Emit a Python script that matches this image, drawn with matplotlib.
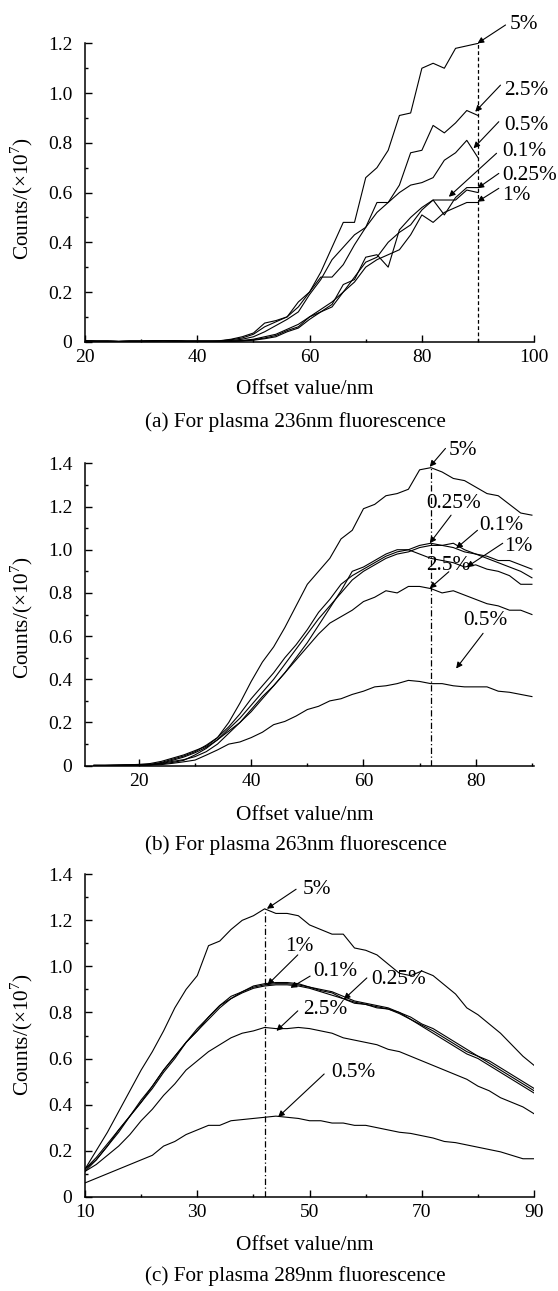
import matplotlib
matplotlib.use('Agg')
import matplotlib.pyplot as plt
from matplotlib.ticker import MultipleLocator, FuncFormatter

plt.rcParams['font.family'] = ['Liberation Serif', 'DejaVu Serif']
plt.rcParams['mathtext.fontset'] = 'custom'
plt.rcParams['mathtext.rm'] = 'Liberation Serif'
FS = 15.3      # labels, captions, annotations
FS_TICK = 14

# ---- panel (a): 236nm ----
x_a = [20, 22, 24, 26, 28, 30, 32, 34, 36, 38, 40, 42, 44, 46, 48, 50, 52, 54,
       56, 58, 60, 62, 64, 66, 68, 70, 72, 74, 76, 78, 80, 82, 84, 86, 88, 90]
zeros_a = [0.003, 0.002, 0.002, 0.001, 0.002, 0.002, 0.003, 0.004, 0.003, 0.002, 0.002, 0.002]
a_5 = zeros_a + [0.004, 0.01, 0.02, 0.035, 0.075, 0.085, 0.1, 0.16, 0.2, 0.28, 0.38, 0.48,
                 0.48, 0.66, 0.7, 0.77, 0.91, 0.92, 1.1, 1.12, 1.1, 1.18, 1.19, 1.2]
a_25 = zeros_a + [0.003, 0.008, 0.015, 0.03, 0.06, 0.08, 0.1, 0.14, 0.2, 0.26, 0.26, 0.31,
                  0.39, 0.46, 0.56, 0.56, 0.63, 0.76, 0.77, 0.87, 0.84, 0.88, 0.93, 0.91]
a_05 = zeros_a + [0.002, 0.005, 0.01, 0.02, 0.04, 0.065, 0.09, 0.12, 0.19, 0.25, 0.33, 0.38,
                  0.43, 0.46, 0.52, 0.56, 0.6, 0.63, 0.64, 0.66, 0.73, 0.76, 0.81, 0.74]
a_01 = zeros_a + [0.001, 0.002, 0.005, 0.01, 0.02, 0.03, 0.05, 0.07, 0.1, 0.13, 0.16, 0.2,
                  0.26, 0.32, 0.34, 0.4, 0.44, 0.47, 0.53, 0.57, 0.57, 0.57, 0.61, 0.6]
a_025 = zeros_a + [0.001, 0.002, 0.004, 0.008, 0.015, 0.025, 0.045, 0.06, 0.1, 0.12, 0.15, 0.23,
                   0.25, 0.34, 0.35, 0.3, 0.45, 0.5, 0.54, 0.57, 0.51, 0.58, 0.62, 0.62]
a_1 = zeros_a + [0.001, 0.002, 0.003, 0.006, 0.012, 0.02, 0.04, 0.055, 0.09, 0.12, 0.14, 0.2,
                 0.24, 0.3, 0.33, 0.35, 0.37, 0.43, 0.51, 0.48, 0.52, 0.54, 0.56, 0.56]

# ---- panel (b): 263nm ----
x_b = [12, 14, 16, 18, 20, 22, 24, 26, 28, 30, 32, 34, 36, 38, 40, 42, 44, 46, 48, 50,
       52, 54, 56, 58, 60, 62, 64, 66, 68, 70, 72, 74, 76, 78, 80, 82, 84, 86, 88, 90]
b_5 = [0.002, 0.002, 0.003, 0.004, 0.006, 0.01, 0.02, 0.035, 0.05, 0.07,
       0.09, 0.13, 0.2, 0.29, 0.39, 0.48, 0.55, 0.64, 0.74, 0.84,
       0.9, 0.96, 1.05, 1.09, 1.19, 1.21, 1.25, 1.26, 1.28, 1.37,
       1.38, 1.36, 1.33, 1.32, 1.29, 1.26, 1.25, 1.21, 1.17, 1.16]
b_025 = [0.001, 0.001, 0.002, 0.003, 0.004, 0.006, 0.015, 0.03, 0.045, 0.065,
         0.095, 0.13, 0.18, 0.24, 0.31, 0.37, 0.43, 0.5, 0.56, 0.63,
         0.71, 0.77, 0.84, 0.88, 0.91, 0.94, 0.97, 0.99, 1.0, 1.02,
         1.03, 1.02, 1.01, 0.99, 0.98, 0.97, 0.95, 0.95, 0.93, 0.91]
b_01 = [0.001, 0.001, 0.002, 0.002, 0.003, 0.005, 0.012, 0.025, 0.04, 0.06,
        0.085, 0.12, 0.17, 0.22, 0.28, 0.34, 0.4, 0.47, 0.54, 0.61,
        0.68, 0.74, 0.8, 0.86, 0.9, 0.93, 0.96, 0.98, 0.99, 1.01,
        1.02, 1.02, 1.03, 1.0, 0.98, 0.96, 0.94, 0.92, 0.9, 0.87]
b_1 = [0.001, 0.001, 0.001, 0.002, 0.003, 0.004, 0.008, 0.015, 0.025, 0.05,
       0.08, 0.12, 0.16, 0.2, 0.25, 0.31, 0.37, 0.43, 0.5, 0.57,
       0.65, 0.73, 0.81, 0.9, 0.92, 0.95, 0.98, 1.0, 1.0, 0.98,
       0.96, 0.95, 0.94, 0.92, 0.93, 0.91, 0.9, 0.88, 0.84, 0.84]
b_25 = [0.001, 0.001, 0.001, 0.002, 0.002, 0.004, 0.01, 0.02, 0.028, 0.042,
        0.065, 0.1, 0.15, 0.2, 0.26, 0.32, 0.37, 0.43, 0.49, 0.55,
        0.61, 0.66, 0.69, 0.72, 0.76, 0.78, 0.81, 0.8, 0.83, 0.83,
        0.82, 0.8, 0.81, 0.79, 0.77, 0.75, 0.74, 0.72, 0.72, 0.7]
b_05 = [0.001, 0.001, 0.001, 0.002, 0.002, 0.003, 0.005, 0.011, 0.018, 0.026,
        0.049, 0.073, 0.1, 0.11, 0.13, 0.155, 0.19, 0.205, 0.23, 0.26,
        0.275, 0.3, 0.31, 0.33, 0.345, 0.365, 0.37, 0.38, 0.395, 0.39,
        0.38, 0.38, 0.37, 0.365, 0.365, 0.365, 0.345, 0.34, 0.33, 0.32]

# ---- panel (c): 289nm ----
x_c = [10, 12, 14, 16, 18, 20, 22, 24, 26, 28, 30, 32, 34, 36, 38, 40, 42, 44, 46, 48,
       50, 52, 54, 56, 58, 60, 62, 64, 66, 68, 70, 72, 74, 76, 78, 80, 82, 84, 86, 88, 90]
c_5 = [0.12, 0.2, 0.28, 0.37, 0.46, 0.55, 0.63, 0.72, 0.82, 0.9,
       0.96, 1.09, 1.11, 1.16, 1.2, 1.22, 1.25, 1.23, 1.23, 1.22,
       1.18, 1.16, 1.14, 1.14, 1.08, 1.07, 1.05, 1.01, 0.97, 0.96,
       0.98, 0.96, 0.92, 0.88, 0.82, 0.79, 0.75, 0.71, 0.66, 0.61, 0.57]
c_1 = [0.12, 0.17, 0.23, 0.29, 0.35, 0.41, 0.48, 0.55, 0.61, 0.67,
       0.73, 0.78, 0.83, 0.87, 0.89, 0.915, 0.925, 0.93, 0.93, 0.925,
       0.91, 0.9, 0.89, 0.87, 0.85, 0.84, 0.83, 0.82, 0.8, 0.77,
       0.745, 0.72, 0.69, 0.66, 0.63, 0.61, 0.58, 0.55, 0.52, 0.49, 0.46]
c_01 = [0.12, 0.16, 0.22, 0.28, 0.35, 0.41, 0.47, 0.54, 0.6, 0.67,
        0.72, 0.78, 0.83, 0.86, 0.89, 0.91, 0.92, 0.925, 0.925, 0.92,
        0.91, 0.895, 0.885, 0.86, 0.84, 0.835, 0.82, 0.815, 0.795, 0.77,
        0.74, 0.71, 0.68, 0.65, 0.62, 0.6, 0.57, 0.54, 0.51, 0.48, 0.45]
c_025 = [0.11, 0.16, 0.22, 0.29, 0.35, 0.42, 0.48, 0.55, 0.61, 0.67,
         0.72, 0.77, 0.82, 0.86, 0.885, 0.905, 0.915, 0.92, 0.92, 0.915,
         0.905, 0.89, 0.875, 0.86, 0.845, 0.835, 0.825, 0.815, 0.8, 0.78,
         0.75, 0.73, 0.7, 0.67, 0.64, 0.61, 0.59, 0.56, 0.53, 0.5, 0.47]
c_25 = [0.11, 0.14, 0.18, 0.22, 0.27, 0.33, 0.38, 0.44, 0.49, 0.55,
        0.59, 0.63, 0.66, 0.69, 0.71, 0.72, 0.735, 0.73, 0.73, 0.735,
        0.73, 0.72, 0.71, 0.69, 0.68, 0.67, 0.66, 0.64, 0.63, 0.61,
        0.59, 0.57, 0.55, 0.53, 0.51, 0.48, 0.46, 0.43, 0.41, 0.39, 0.36]
c_05 = [0.06, 0.08, 0.1, 0.12, 0.14, 0.16, 0.18, 0.22, 0.24, 0.27,
        0.29, 0.31, 0.31, 0.33, 0.335, 0.34, 0.345, 0.35, 0.345, 0.34,
        0.33, 0.33, 0.32, 0.32, 0.31, 0.31, 0.3, 0.29, 0.28, 0.275,
        0.265, 0.255, 0.24, 0.235, 0.225, 0.215, 0.205, 0.195, 0.18, 0.165, 0.165]

# label, text position, arrow tail, arrow head
labels_a = [('5%', (95.7, 1.274), (94.9, 1.274), (89.9, 1.2)),
            ('2.5%', (94.6, 1.012), (94.0, 1.032), (89.5, 0.925)),
            ('0.5%', (94.6, 0.87), (93.7, 0.885), (89.2, 0.778)),
            ('0.1%', (94.3, 0.764), (93.3, 0.758), (84.8, 0.583)),
            ('0.25%', (94.3, 0.67), (93.7, 0.677), (89.9, 0.617)),
            ('1%', (94.3, 0.59), (93.7, 0.617), (89.9, 0.563))]
labels_b = [('5%', (75.2, 1.461), (74.6, 1.469), (71.8, 1.384)),
            ('0.25%', (71.1, 1.215), (75.6, 1.16), (71.8, 1.03)),
            ('0.1%', (80.6, 1.114), (80.3, 1.09), (76.5, 1.006)),
            ('1%', (85.1, 1.014), (84.8, 1.03), (78.4, 0.92)),
            ('2.5%', (71.1, 0.929), (75.2, 0.898), (71.8, 0.821)),
            ('0.5%', (77.8, 0.674), (81.3, 0.613), (76.5, 0.45))]
labels_c = [('5%', (48.8, 1.332), (47.6, 1.335), (42.4, 1.25)),
            ('1%', (45.7, 1.087), (47.9, 1.05), (42.5, 0.92)),
            ('0.1%', (50.7, 0.979), (50.1, 0.958), (46.6, 0.907)),
            ('0.25%', (60.9, 0.943), (60.2, 0.95), (56.1, 0.857)),
            ('2.5%', (48.8, 0.814), (47.9, 0.807), (44.1, 0.72)),
            ('0.5%', (53.9, 0.54), (52.6, 0.533), (44.4, 0.346))]

fig = plt.figure(figsize=(5.58, 12.91), dpi=100)


def style_axes(ax, xlim, xmaj, xmin, ymax):
    ax.set_xlim(*xlim)
    ax.set_ylim(0, ymax)
    ax.spines['top'].set_visible(False)
    ax.spines['right'].set_visible(False)
    ax.xaxis.set_major_locator(xmaj)
    ax.xaxis.set_minor_locator(xmin)
    ax.yaxis.set_major_locator(MultipleLocator(0.2))
    ax.yaxis.set_minor_locator(MultipleLocator(0.1))
    ax.yaxis.set_major_formatter(FuncFormatter(lambda v, p: '0' if abs(v) < 1e-9 else f'{v:.1f}'))
    ax.tick_params(which='both', direction='in', labelsize=FS_TICK, width=1.0)
    ax.tick_params(which='major', length=5)
    ax.tick_params(which='minor', length=2.5)
    ax.tick_params(axis='x', which='major', pad=5)
    ax.tick_params(axis='y', which='major', pad=9)
    for s in ax.spines.values():
        s.set_linewidth(1.1)


def draw_labels(ax, labels):
    for txt, tpos, tail, head in labels:
        ax.text(tpos[0], tpos[1], txt, fontsize=FS, ha='left', va='center', clip_on=False)
        ax.annotate('', xy=head, xytext=tail, annotation_clip=False,
                    arrowprops=dict(arrowstyle='-|>', lw=0.8, color='k',
                                    mutation_scale=9, shrinkA=0, shrinkB=0))


L, W = 0.1523, 0.805

# (a)
ax1 = fig.add_axes([L, 0.7353, W, 0.2311])
for ys in [a_5, a_25, a_05, a_01, a_025, a_1]:
    ax1.plot(x_a, ys, color='k', lw=0.8)
ax1.vlines(x_a[a_5.index(max(a_5))], 0, max(a_5), colors='k', linestyles=(0, (3, 2)), lw=0.9)
style_axes(ax1, (20, 100), MultipleLocator(20), MultipleLocator(10), 1.2)
draw_labels(ax1, labels_a)

# (b)
ax2 = fig.add_axes([L, 0.4069, W, 0.2342])
for ys in [b_5, b_025, b_01, b_1, b_25, b_05]:
    ax2.plot(x_b, ys, color='k', lw=0.8)
ax2.vlines(x_b[b_5.index(max(b_5))], 0, max(b_5), colors='k', linestyles=(0, (5, 2, 1, 2)), lw=0.9)
style_axes(ax2, (10.4, 90.4), MultipleLocator(20), MultipleLocator(10), 1.4)
draw_labels(ax2, labels_b)

# (c)
ax3 = fig.add_axes([L, 0.0730, W, 0.2498])
for ys in [c_5, c_1, c_01, c_025, c_25, c_05]:
    ax3.plot(x_c, ys, color='k', lw=0.8)
ax3.vlines(x_c[c_5.index(max(c_5))], 0, max(c_5), colors='k', linestyles=(0, (5, 2, 1, 2)), lw=0.9)
style_axes(ax3, (10, 90), MultipleLocator(20, offset=10), MultipleLocator(10), 1.4)
draw_labels(ax3, labels_c)

# axis labels and captions (pixel rows converted to figure fractions)
H = 1291.0
ylab = 'Counts/(×10$^{7}$)'
for yc in [198.5, 618, 1035]:
    fig.text(0.039, 1 - yc / H, ylab, rotation=90, ha='center', va='center', fontsize=FS)
for yc in [389, 816, 1246]:
    fig.text(0.547, 1 - yc / H, 'Offset value/nm', ha='center', va='center', fontsize=FS)
captions = ['(a) For plasma 236nm fluorescence',
            '(b) For plasma 263nm fluorescence',
            '(c) For plasma 289nm fluorescence']
for yc, cap in zip([422, 845, 1276], captions):
    fig.text(0.530, 1 - yc / H, cap, ha='center', va='center', fontsize=FS)

fig.savefig('out.png', dpi=100)
